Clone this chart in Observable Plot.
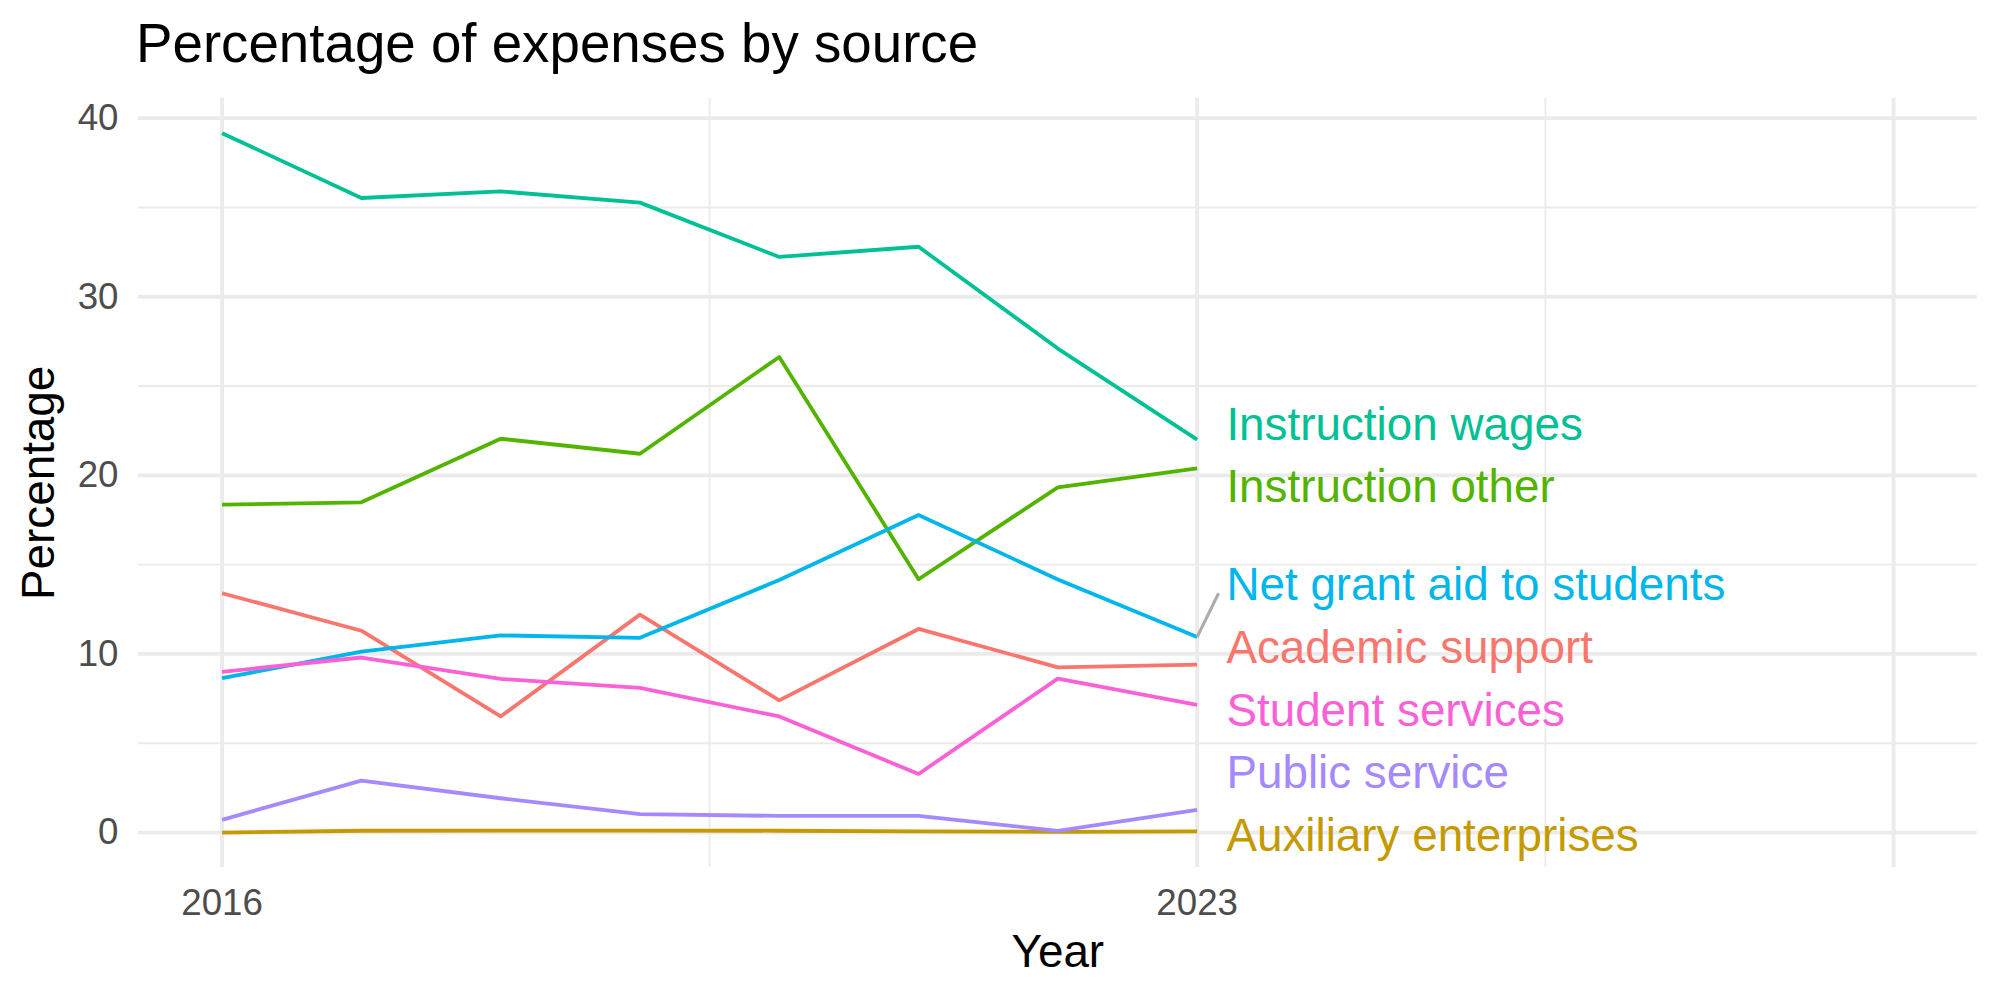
<!DOCTYPE html>
<html>
<head>
<meta charset="utf-8">
<script src="https://cdn.jsdelivr.net/npm/d3@7"></script>
<script src="https://cdn.jsdelivr.net/npm/@observablehq/plot@0.6"></script>
<style>
  html, body { margin: 0; padding: 0; background: #ffffff; }
  body { width: 2000px; height: 1000px; overflow: hidden; font-family: "Liberation Sans", Arial, Helvetica, sans-serif; }
  #title { height: 80px; line-height: 87.4px; font-size: 54.7px; color: #000; padding-left: 136px; white-space: nowrap; overflow: visible; }
  #chart svg { display: block; }
</style>
</head>
<body>
<div id="title">Percentage of expenses by source</div>
<div id="chart"></div>
<script>
// ---- data ----
const years = [2016, 2017, 2018, 2019, 2020, 2021, 2022, 2023];
const seriesNames = [
  "Academic support",
  "Auxiliary enterprises",
  "Instruction other",
  "Instruction wages",
  "Net grant aid to students",
  "Public service",
  "Student services"
];
const seriesColors = ["#F8766D", "#C49A00", "#53B400", "#00C094", "#00B6EB", "#A58AFF", "#FB61D7"];

const academicSupport  = [13.4, 11.3, 6.5, 12.2, 7.4, 11.4, 9.25, 9.4];
const auxiliary        = [0.0, 0.1, 0.11, 0.11, 0.1, 0.06, 0.04, 0.07];
const instructionOther = [18.36, 18.49, 22.05, 21.21, 26.63, 14.18, 19.33, 20.39];
const instructionWages = [39.16, 35.53, 35.9, 35.27, 32.23, 32.8, 27.1, 22.0];
const netGrantAid      = [8.64, 10.13, 11.04, 10.9, 14.14, 17.78, 14.17, 10.95];
const publicService    = [0.71, 2.91, 1.92, 1.03, 0.93, 0.93, 0.09, 1.27];
const studentServices  = [9.0, 9.8, 8.6, 8.1, 6.5, 3.28, 8.62, 7.15];

// label positions (repelled, in data units) and connector for the one label moved away
const labelX = 2023.21;
const labelY = [10.32, -0.24, 19.35, 22.80, 13.84, 3.32, 6.76];
const connectorFrom = {x: 2023, y: 10.95};
const connectorTo = {x: 2023.154, y: 13.40};

// scale / tick specs
const xDomain = [2015.4, 2028.6];
const yDomain = [-1.958, 41.118];
const xTicks = [2016, 2023];
const xMajorGrid = [2016, 2023, 2028];
const xMinorGrid = [2019.5, 2025.5];
const yTicks = [0, 10, 20, 30, 40];
const yMinorGrid = [5, 15, 25, 35];

// ---- build tables ----
const seriesValues = [academicSupport, auxiliary, instructionOther, instructionWages, netGrantAid, publicService, studentServices];
const rows = [];
seriesNames.forEach((name, i) => {
  years.forEach((yr, j) => rows.push({name, year: yr, value: seriesValues[i][j]}));
});
const labels = seriesNames.map((name, i) => ({name, x: labelX, y: labelY[i]}));

const gridColor = "#EBEBEB";
const plot = Plot.plot({
  width: 2000,
  height: 920,
  marginTop: 17.7,
  marginBottom: 133,
  marginLeft: 138,
  marginRight: 23.3,
  style: {fontFamily: "Liberation Sans, Arial, Helvetica, sans-serif", background: "#ffffff", overflow: "visible"},
  x: {type: "linear", domain: xDomain, axis: null},
  y: {type: "linear", domain: yDomain, axis: null},
  color: {domain: seriesNames, range: seriesColors},
  marks: [
    Plot.ruleY(yMinorGrid, {stroke: gridColor, strokeWidth: 1.9}),
    Plot.ruleX(xMinorGrid, {stroke: gridColor, strokeWidth: 1.9}),
    Plot.ruleY(yTicks, {stroke: gridColor, strokeWidth: 3.8}),
    Plot.ruleX(xMajorGrid, {stroke: gridColor, strokeWidth: 3.8}),
    Plot.axisX({ticks: xTicks, tickFormat: d => String(d), tickSize: 0, tickPadding: 21, fontSize: 36.7, color: "#4D4D4D", label: null}),
    Plot.axisY({ticks: yTicks, tickFormat: d => String(d), tickSize: 0, tickPadding: 20, fontSize: 36.7, color: "#4D4D4D", label: null}),
    Plot.line(rows, {x: "year", y: "value", z: "name", stroke: "name", strokeWidth: 3.8, strokeLinejoin: "round", strokeLinecap: "butt"}),
    Plot.link([0], {x1: () => connectorFrom.x, y1: () => connectorFrom.y, x2: () => connectorTo.x, y2: () => connectorTo.y, stroke: "#ABABAB", strokeWidth: 3}),
    Plot.text(labels, {x: "x", y: "y", text: "name", fill: "name", textAnchor: "start", lineAnchor: "middle", fontSize: 45.8}),
    Plot.text(["Year"], {frameAnchor: "bottom", dy: 85, text: d => d, fontSize: 45.8, fill: "#000", textAnchor: "middle", lineAnchor: "middle"}),
    Plot.text(["Percentage"], {frameAnchor: "left", dx: -99.4, rotate: -90, text: d => d, fontSize: 45.8, fill: "#000", textAnchor: "middle", lineAnchor: "middle"})
  ]
});
document.getElementById("chart").appendChild(plot);
</script>
</body>
</html>
